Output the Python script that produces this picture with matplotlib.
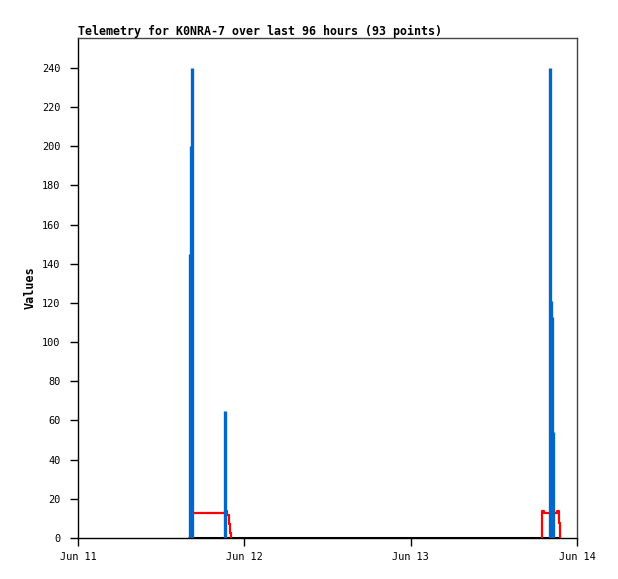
import matplotlib
matplotlib.use("Agg")
import matplotlib.pyplot as plt
from datetime import datetime

# blue impulses (time, value)
blue_times = ["2024-06-11 16:10", "2024-06-11 16:18", "2024-06-11 16:27", "2024-06-11 21:13",
              "2024-06-13 20:04", "2024-06-13 20:13", "2024-06-13 20:26", "2024-06-13 20:35"]
blue_vals = [145, 200, 240, 65, 240, 121, 113, 54]

# red stepped series
red_left_times = ["2024-06-11 16:18", "2024-06-11 21:13", "2024-06-11 21:34", "2024-06-11 21:45",
                  "2024-06-11 21:56", "2024-06-11 22:04"]
red_left_vals = [13, 14, 11.7, 7, 2.7, 0]
red_right_times = ["2024-06-13 18:58", "2024-06-13 18:59", "2024-06-13 19:18", "2024-06-13 21:06",
                   "2024-06-13 21:24", "2024-06-13 21:33"]
red_right_vals = [0, 14, 12.7, 14, 7.5, 0]

# zero series
zero_times = ["2024-06-11 15:52", "2024-06-13 21:33"]
zero_vals = [0, 0]

x_ticks = ["2024-06-11", "2024-06-12", "2024-06-13", "2024-06-14"]
x_labels = ["Jun 11", "Jun 12", "Jun 13", "Jun 14"]


def to_dt(lst):
    out = []
    for s in lst:
        if len(s) > 10:
            out.append(datetime.strptime(s, "%Y-%m-%d %H:%M"))
        else:
            out.append(datetime.strptime(s, "%Y-%m-%d"))
    return out


plt.rcParams['font.family'] = ['DejaVu Sans Mono']

fig = plt.figure(figsize=(6.18, 5.79), dpi=100)
ax = fig.add_axes([78 / 618, 41 / 579, 499 / 618, 500 / 579])

# zero line
ax.plot(to_dt(zero_times), zero_vals, color="black", lw=2.2, solid_capstyle="butt", zorder=2)

# red steps
for t, v in [(red_left_times, red_left_vals), (red_right_times, red_right_vals)]:
    ax.step(to_dt(t), v, where="post", color="#ff0000", lw=1.6, zorder=3)

# blue impulses
ax.vlines(to_dt(blue_times), 0, blue_vals, color="#0066cc", lw=2.4, zorder=4)

ax.set_xlim(to_dt(["2024-06-11"])[0], to_dt(["2024-06-14"])[0])
ax.set_ylim(0, 255.3)
ax.set_xticks(to_dt(x_ticks))
ax.set_xticklabels(x_labels)
ax.set_yticks(range(0, 241, 20))

ax.tick_params(axis="both", labelsize=7.4, length=5.8, width=1, direction="out", pad=7)
ax.tick_params(axis="x", pad=4)

for side in ["top", "right"]:
    ax.spines[side].set_color("#444444")
    ax.spines[side].set_linewidth(1)
for side in ["left", "bottom"]:
    ax.spines[side].set_color("black")
    ax.spines[side].set_linewidth(1)

ax.set_ylabel("Values", fontsize=8.5, fontweight="bold", labelpad=4)
ax.set_title("Telemetry for K0NRA-7 over last 96 hours (93 points)", fontsize=8.4,
             fontweight="bold", loc="left", pad=2)

fig.savefig("out.png", dpi=100)
